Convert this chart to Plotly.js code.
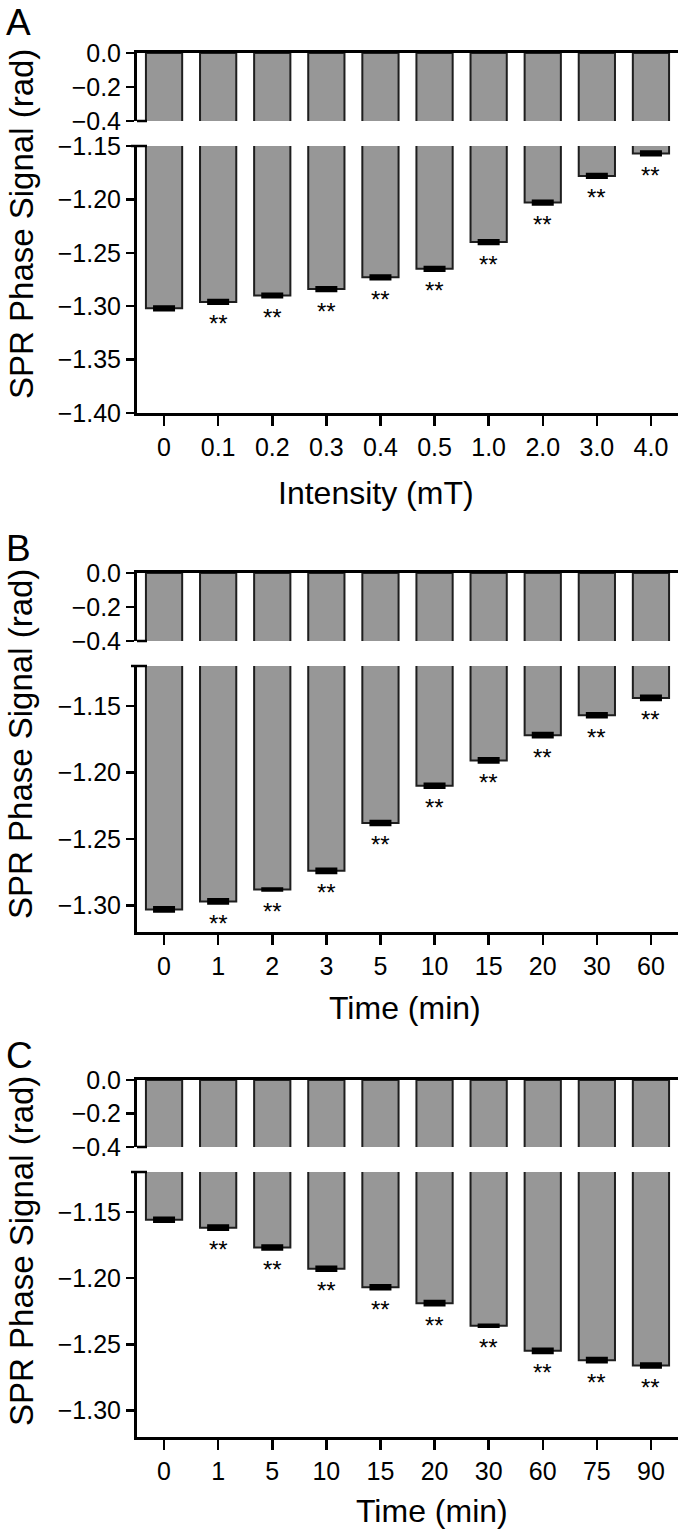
<!DOCTYPE html>
<html>
<head>
<meta charset="utf-8">
<script src="https://cdn.plot.ly/plotly-3.0.1.min.js"></script>
<style>
  html, body { margin: 0; padding: 0; background: #fff; }
  #chart { width: 680px; height: 1531px; }
</style>
</head>
<body>
<div id="chart"></div>
<script>
// ---------- data ----------
const catsA  = ['0', '0.1', '0.2', '0.3', '0.4', '0.5', '1.0', '2.0', '3.0', '4.0'];
const valsA  = [-1.302, -1.296, -1.290, -1.284, -1.273, -1.265, -1.240, -1.203, -1.178, -1.157];
const errA   = [0.0008, 0.0008, 0.0008, 0.0008, 0.0008, 0.0008, 0.0008, 0.0008, 0.0008, 0.0008];
const starsA = ['', '**', '**', '**', '**', '**', '**', '**', '**', '**'];

const catsB  = ['0', '1', '2', '3', '5', '10', '15', '20', '30', '60'];
const valsB  = [-1.303, -1.297, -1.288, -1.274, -1.238, -1.210, -1.191, -1.172, -1.157, -1.144];
const errB   = [0.0008, 0.0008, 0, 0.0008, 0.0008, 0.0008, 0.0008, 0.0008, 0.0008, 0.0008];
const starsB = ['', '**', '**', '**', '**', '**', '**', '**', '**', '**'];

const catsC  = ['0', '1', '5', '10', '15', '20', '30', '60', '75', '90'];
const valsC  = [-1.156, -1.162, -1.177, -1.193, -1.207, -1.219, -1.236, -1.255, -1.262, -1.266];
const errC   = [0.0008, 0.0008, 0.0008, 0.0008, 0.0008, 0.0008, 0, 0.0008, 0.0008, 0.0008];
const starsC = ['', '**', '**', '**', '**', '**', '**', '**', '**', '**'];

// y tick values and labels
const topTickVals  = [0, -0.2, -0.4];
const topTickText  = ['0.0', '\u22120.2', '\u22120.4'];
const botTickValsA = [-1.15, -1.20, -1.25, -1.30, -1.35, -1.40];
const botTickTextA = ['\u22121.15', '\u22121.20', '\u22121.25', '\u22121.30', '\u22121.35', '\u22121.40'];
const botTickValsBC = [-1.15, -1.20, -1.25, -1.30];
const botTickTextBC = ['\u22121.15', '\u22121.20', '\u22121.25', '\u22121.30'];

const panelLetters = ['A', 'B', 'C'];
const xTitles = ['Intensity (mT)', 'Time (min)', 'Time (min)'];
const yTitle = 'SPR Phase Signal (rad)';
const topRange = [-0.4, 0];
const bottomRanges = [[-1.40, -1.15], [-1.32, -1.12], [-1.32, -1.12]];

// ---------- layout geometry (pixels) ----------
const W = 680, H = 1531;
const AX_L = 137, AX_R = 678;
const geo = [
  { top: [53, 121],   bot: [146, 413],   letterY: 0,    yTitleY: 224,  xTitleX: 376, xTitleY: 493 },
  { top: [573, 641],  bot: [666, 932],   letterY: 526,  yTitleY: 744,  xTitleX: 405, xTitleY: 1008 },
  { top: [1080, 1147], bot: [1172, 1437], letterY: 1033, yTitleY: 1251, xTitleX: 432, xTitleY: 1511 }
];

const FONT = 'Liberation Sans, Arial, Helvetica, sans-serif';
const BAR_FILL = '#979797';
const BAR_LINE = '#1e1e1e';

const dataSets = [
  { cats: catsA, vals: valsA, errs: errA, stars: starsA, tv: botTickValsA,  tt: botTickTextA },
  { cats: catsB, vals: valsB, errs: errB, stars: starsB, tv: botTickValsBC, tt: botTickTextBC },
  { cats: catsC, vals: valsC, errs: errC, stars: starsC, tv: botTickValsBC, tt: botTickTextBC }
];

const traces = [];
const layout = {
  width: W, height: H,
  margin: { l: 0, r: 0, t: 0, b: 0, pad: 0 },
  paper_bgcolor: '#fff', plot_bgcolor: '#fff',
  font: { family: FONT, color: '#000' },
  showlegend: false,
  bargap: 0.33,
  annotations: [],
  shapes: []
};

const py = p => 1 - p / H;
const xDomain = [AX_L / W, AX_R / W];

dataSets.forEach((d, k) => {
  const g = geo[k];
  const nb = 2 * k + 1, nt = 2 * k + 2;
  const sb = nb === 1 ? '' : String(nb);
  const st = String(nt);

  traces.push({
    type: 'bar', x: d.cats, y: d.vals,
    xaxis: 'x' + sb, yaxis: 'y' + sb,
    marker: { color: BAR_FILL, line: { color: BAR_LINE, width: 2 } },
    error_y: { type: 'data', array: d.errs, visible: true, color: '#000', thickness: 4.5, width: 11 },
    hoverinfo: 'skip'
  });
  traces.push({
    type: 'bar', x: d.cats, y: d.vals,
    xaxis: 'x' + st, yaxis: 'y' + st,
    marker: { color: BAR_FILL, line: { color: BAR_LINE, width: 2 } },
    hoverinfo: 'skip'
  });

  layout['xaxis' + sb] = {
    domain: xDomain, anchor: 'y' + sb, type: 'category',
    showline: true, linewidth: 3, linecolor: '#000',
    ticks: 'outside', ticklen: 10, tickwidth: 2.5, tickcolor: '#000',
    tickfont: { size: 25, family: FONT },
    showgrid: false, zeroline: false, fixedrange: true
  };
  layout['xaxis' + st] = {
    domain: xDomain, anchor: 'y' + st, type: 'category', matches: 'x' + sb,
    side: 'top', showline: true, linewidth: 3.5, linecolor: '#000',
    ticks: '', showticklabels: false, showgrid: false, zeroline: false, fixedrange: true
  };
  layout['yaxis' + sb] = {
    domain: [py(g.bot[1]), py(g.bot[0])], anchor: 'x' + sb,
    range: bottomRanges[k], tickmode: 'array', tickvals: d.tv, ticktext: d.tt,
    showline: true, linewidth: 3, linecolor: '#000',
    ticks: 'outside', ticklen: 8, tickwidth: 2.5, tickcolor: '#000',
    tickfont: { size: 25, family: FONT },
    showgrid: false, zeroline: false, fixedrange: true
  };
  layout['yaxis' + st] = {
    domain: [py(g.top[1]), py(g.top[0])], anchor: 'x' + st,
    range: topRange, tickmode: 'array', tickvals: topTickVals, ticktext: topTickText,
    showline: true, linewidth: 3, linecolor: '#000',
    ticks: 'outside', ticklen: 8, tickwidth: 2.5, tickcolor: '#000',
    tickfont: { size: 25, family: FONT },
    showgrid: false, zeroline: false, fixedrange: true
  };

  // axis-break stubs
  layout.shapes.push({
    type: 'line', xref: 'paper', yref: 'y' + st + ' domain',
    x0: AX_L / W, x1: (AX_L + 10) / W, y0: 0, y1: 0,
    line: { color: '#000', width: 2.5 }
  });
  layout.shapes.push({
    type: 'line', xref: 'paper', yref: 'y' + sb + ' domain',
    x0: (AX_L - 6) / W, x1: (AX_L + 10) / W, y0: 1, y1: 1,
    line: { color: '#000', width: 2.5 }
  });

  d.stars.forEach((s, i) => {
    if (!s) return;
    layout.annotations.push({
      xref: 'x' + sb, yref: 'y' + sb, x: i, y: d.vals[i],
      text: s, showarrow: false, yanchor: 'middle', yshift: -22,
      font: { size: 24, family: FONT, color: '#000' }
    });
  });

  layout.annotations.push({
    xref: 'paper', yref: 'paper', x: 4 / W, y: py(g.letterY),
    xanchor: 'left', yanchor: 'top', text: panelLetters[k], showarrow: false,
    font: { size: 37, family: FONT, color: '#000' }
  });
  layout.annotations.push({
    xref: 'paper', yref: 'paper', x: 21 / W, y: py(g.yTitleY),
    xanchor: 'center', yanchor: 'middle', textangle: -90,
    text: yTitle, showarrow: false,
    font: { size: 33, family: FONT, color: '#000' }
  });
  layout.annotations.push({
    xref: 'paper', yref: 'paper', x: g.xTitleX / W, y: py(g.xTitleY),
    xanchor: 'center', yanchor: 'middle',
    text: xTitles[k], showarrow: false,
    font: { size: 32, family: FONT, color: '#000' }
  });
});

Plotly.newPlot('chart', traces, layout, { staticPlot: true, displayModeBar: false });
</script>
</body>
</html>
